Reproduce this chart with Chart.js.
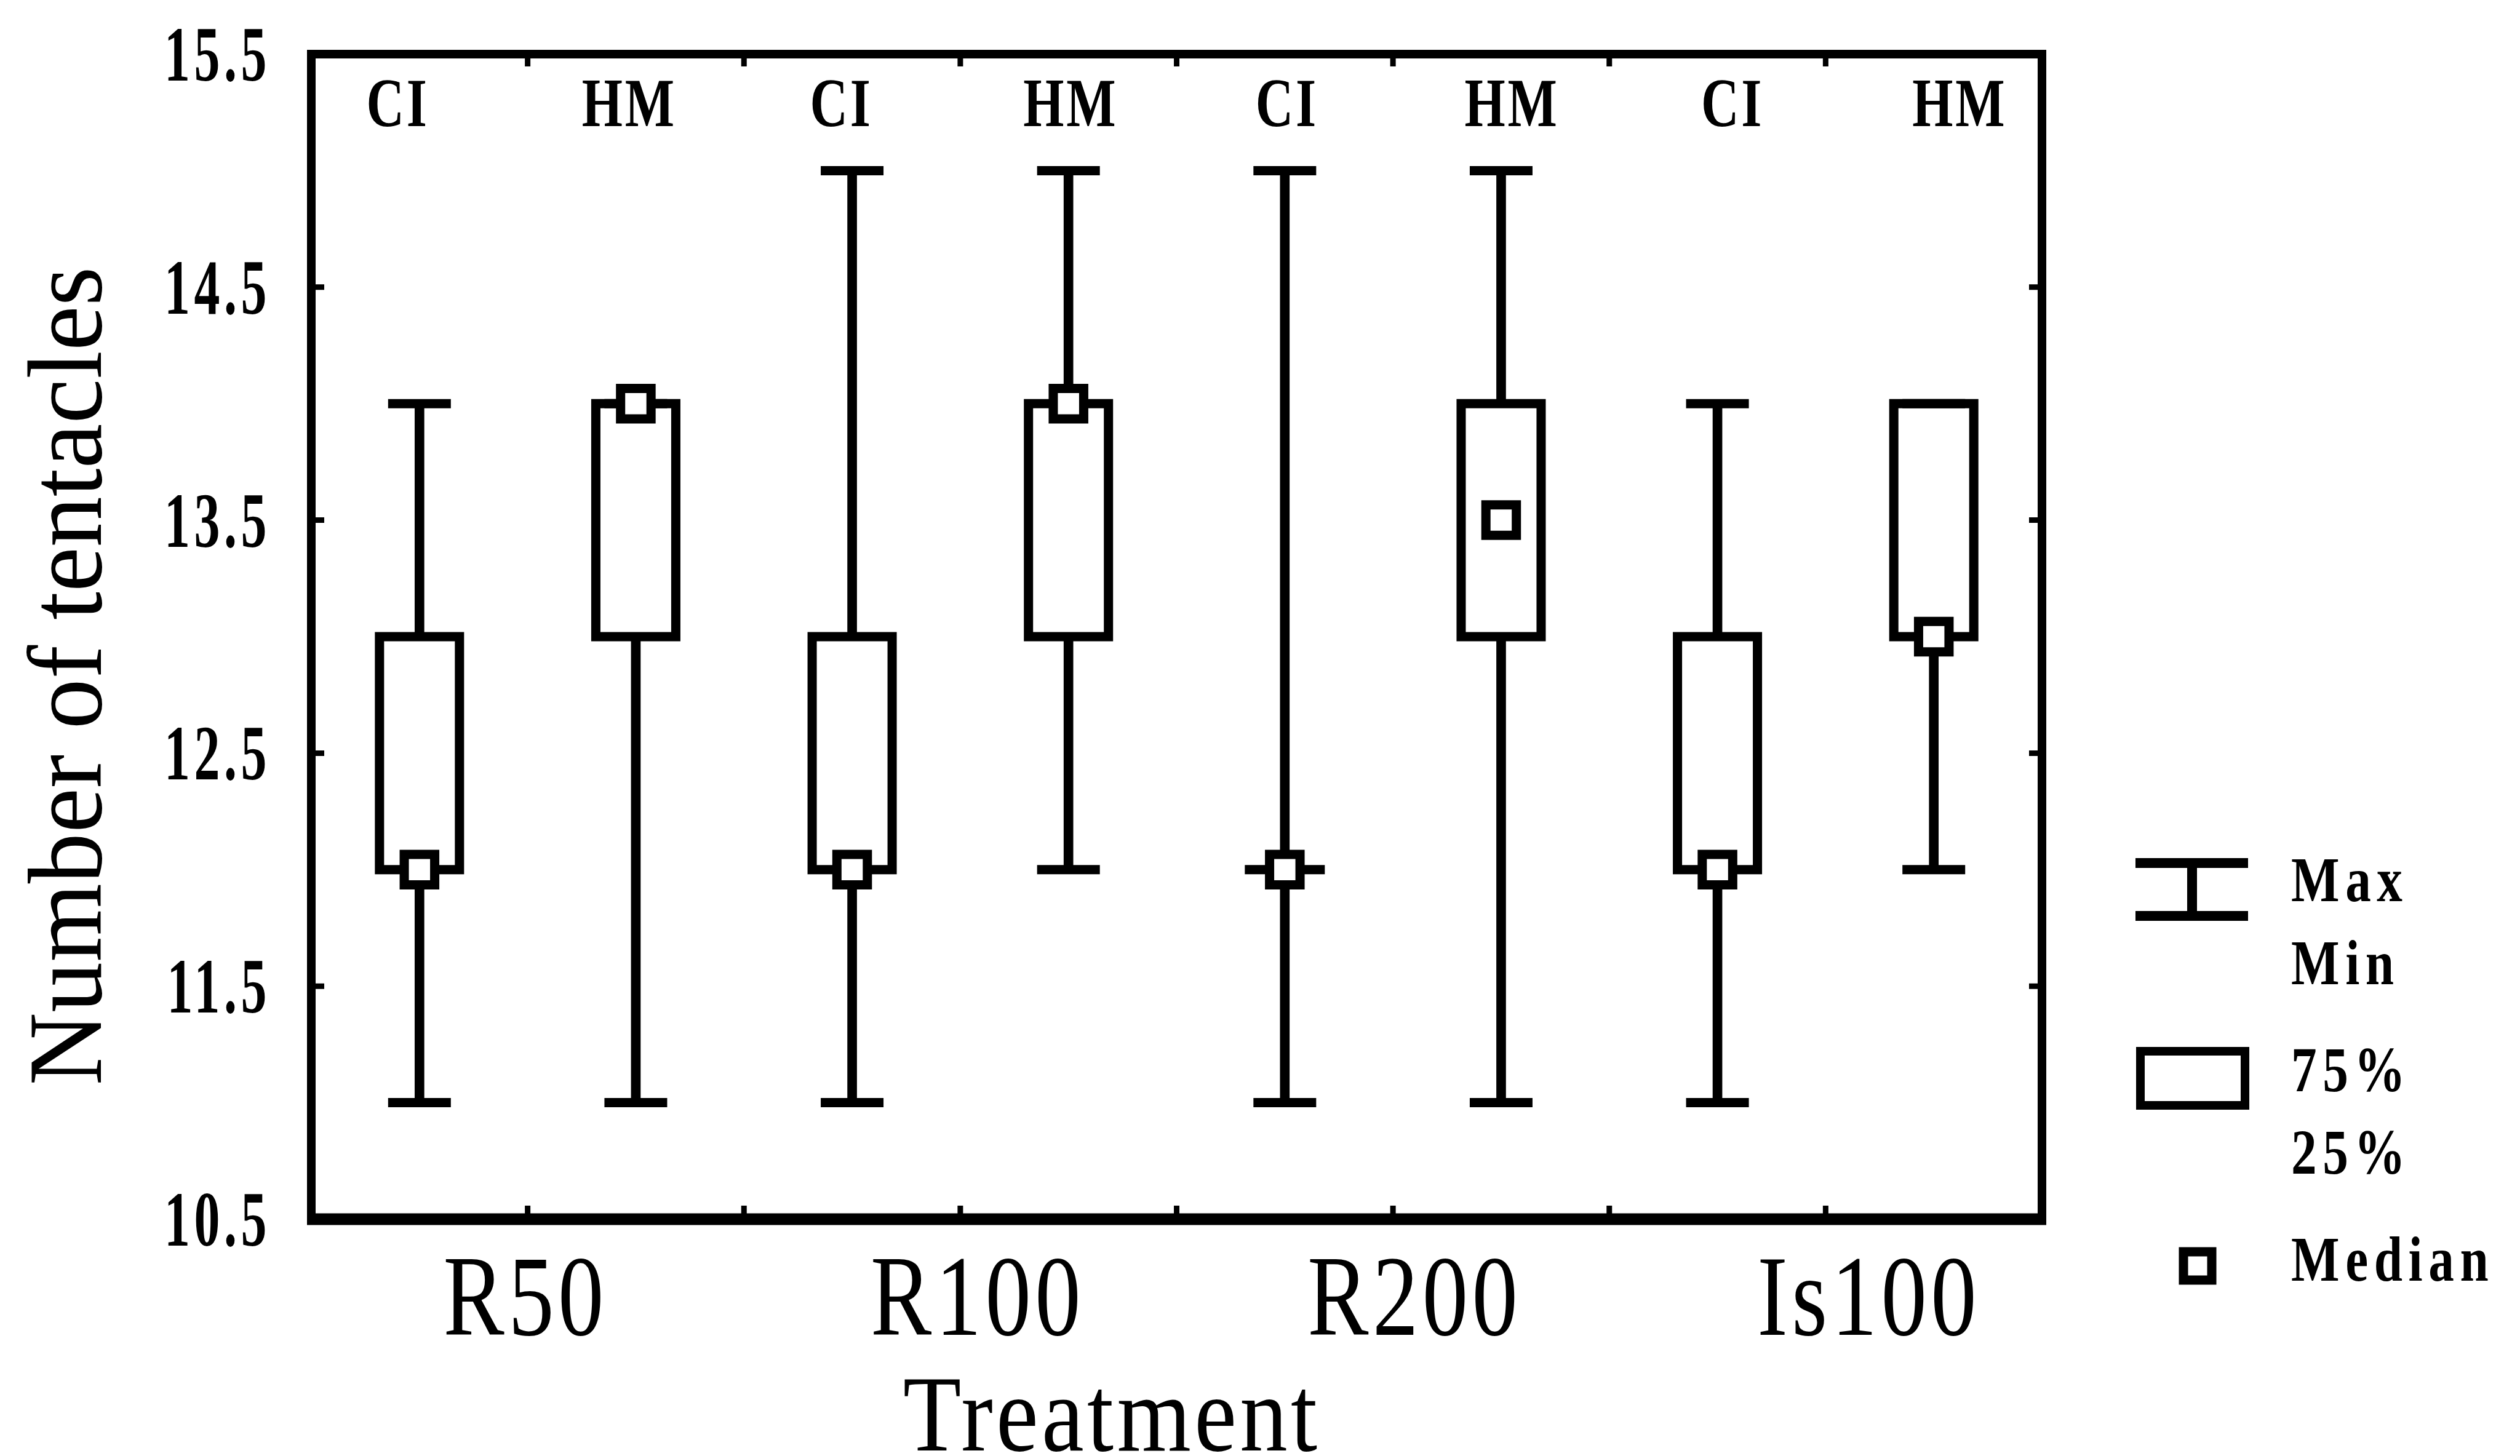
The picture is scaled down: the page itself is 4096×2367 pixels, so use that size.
<!DOCTYPE html>
<html>
<head>
<meta charset="utf-8">
<title>Number of tentacles by treatment</title>
<script src="https://cdn.jsdelivr.net/npm/chart.js@4.4.1/dist/chart.umd.min.js"></script>
<style>
  html, body { margin: 0; padding: 0; background: #fff; }
  #contenedor { width: 4096px; height: 2367px; }
</style>
</head>
<body>
<div id="contenedor"><canvas id="grafico-tentaculos"></canvas></div>
<script>
// Tentacle counts: CI and HM polyps side by side for each treatment
const treatments = ['R50', 'R100', 'R200', 'Is100'];
const groups = ['CI', 'HM', 'CI', 'HM', 'CI', 'HM', 'CI', 'HM'];
const minVals    = [11, 11, 11, 12, 11, 11,   11, 12];
const q25Vals    = [12, 13, 12, 13, 12, 13,   12, 13];
const medianVals = [12, 14, 12, 14, 12, 13.5, 12, 13];
const q75Vals    = [13, 14, 13, 14, 12, 14,   13, 14];
const maxVals    = [14, 14, 15, 15, 15, 15,   14, 14];
const yTicks = [10.5, 11.5, 12.5, 13.5, 14.5, 15.5];

// where the text sits along the x scale (box i is drawn at x = i + 1)
const groupLabelX = [0.90, 1.97, 2.95, 4.01, 5.01, 6.05, 7.07, 8.12];
const treatmentLabelX = [1.49, 3.58, 5.60, 7.70];

const SERIF = '"Liberation Serif", "Times New Roman", serif';
const LW = 15;

const xs = groups.map((g, i) => i + 1);
const pts = vals => vals.map((v, i) => ({ x: xs[i], y: v }));

// condensed, letter-spaced serif text, like the old Statistica output
function texto(ctx, str, x, y, o) {
    ctx.save();
    ctx.translate(x, y);
    if (o.rotate) ctx.rotate(o.rotate);
    ctx.scale(o.sx || 1, 1);
    ctx.font = (o.weight || 'normal') + ' ' + o.size + 'px ' + SERIF;
    if ('letterSpacing' in ctx) ctx.letterSpacing = (o.spacing || 0) + 'px';
    ctx.textAlign = o.align || 'left';
    ctx.textBaseline = 'alphabetic';
    ctx.fillStyle = '#000';
    ctx.fillText(str, 0, 0);
    ctx.restore();
}

const marcoYTextos = {
    id: 'marcoYTextos',
    beforeDraw(chart) {
        const ctx = chart.ctx;
        ctx.save();
        ctx.fillStyle = '#fff';
        ctx.fillRect(0, 0, chart.width, chart.height);
        ctx.restore();
    },
    // box outlines centred on the 25% / 75% values, drawn right after the white fill
    afterDatasetDraw(chart, args) {
        if (args.index !== 1) return;
        const ctx = chart.ctx;
        ctx.save();
        ctx.strokeStyle = '#000';
        ctx.lineWidth = LW;
        ctx.lineJoin = 'miter';
        args.meta.data.forEach(bar => {
            const p = bar.getProps(['x', 'y', 'base', 'width'], true);
            const top = Math.min(p.y, p.base);
            const h = Math.abs(p.base - p.y);
            ctx.strokeRect(p.x - p.width / 2, top, p.width, h);
        });
        ctx.restore();
    },
    afterDraw(chart) {
        const ctx = chart.ctx;
        const a = chart.chartArea;
        const sx = chart.scales.x;
        const sy = chart.scales.y;

        // frame
        ctx.save();
        ctx.strokeStyle = '#000';
        ctx.lineWidth = 14;
        ctx.strokeRect(a.left, a.top, a.right - a.left, a.bottom - a.top);
        ctx.lineWidth = 19;
        ctx.beginPath();
        ctx.moveTo(a.left - 7, a.bottom);
        ctx.lineTo(a.right + 7, a.bottom);
        ctx.stroke();

        // small inward ticks on all four sides
        ctx.lineWidth = 9;
        ctx.beginPath();
        sy.ticks.forEach(t => {
            const py = sy.getPixelForValue(t.value);
            ctx.moveTo(a.left, py); ctx.lineTo(a.left + 21, py);
            ctx.moveTo(a.right, py); ctx.lineTo(a.right - 21, py);
        });
        for (let i = 1; i < xs.length; i++) {
            const px = sx.getPixelForValue(xs[i - 1] + 0.5);
            ctx.moveTo(px, a.top); ctx.lineTo(px, a.top + 20);
            ctx.moveTo(px, a.bottom); ctx.lineTo(px, a.bottom - 22);
        }
        ctx.stroke();
        ctx.restore();

        // y tick labels
        sy.ticks.forEach(t => {
            texto(ctx, t.value.toFixed(1), a.left - 66, sy.getPixelForValue(t.value) + 43,
                { size: 127, weight: 'bold', sx: 0.66, spacing: 10, align: 'right' });
        });

        // CI / HM along the top
        groups.forEach((g, i) => {
            texto(ctx, g, sx.getPixelForValue(groupLabelX[i]), 205,
                { size: 112, weight: 'bold', sx: 0.76, spacing: 5, align: 'center' });
        });

        // treatment names
        treatments.forEach((t, i) => {
            texto(ctx, t, sx.getPixelForValue(treatmentLabelX[i]), 2170,
                { size: 186, sx: 0.8, spacing: 8, align: 'center' });
        });

        // axis titles
        texto(ctx, 'Treatment', 1807, 2358, { size: 176, sx: 0.88, spacing: 6, align: 'center' });
        texto(ctx, 'Number of tentacles', 164, 1099,
            { size: 171, sx: 0.96, align: 'center', rotate: -Math.PI / 2 });

        // legend
        ctx.save();
        ctx.strokeStyle = '#000';
        ctx.lineWidth = 16;
        ctx.beginPath();
        ctx.moveTo(3471, 1403); ctx.lineTo(3654, 1403);
        ctx.moveTo(3471, 1489); ctx.lineTo(3654, 1489);
        ctx.moveTo(3563, 1403); ctx.lineTo(3563, 1489);
        ctx.stroke();
        ctx.lineWidth = 14;
        ctx.strokeRect(3479, 1709, 170, 88);
        ctx.lineWidth = 15;
        ctx.fillStyle = '#fff';
        ctx.fillRect(3549, 2035, 46, 46);
        ctx.strokeRect(3549, 2035, 46, 46);
        ctx.restore();

        const ley = { size: 104, weight: 'bold', sx: 0.8, spacing: 12 };
        texto(ctx, 'Max', 3724, 1465, ley);
        texto(ctx, 'Min', 3724, 1600, ley);
        texto(ctx, '75%', 3724, 1774, ley);
        texto(ctx, '25%', 3724, 1908, ley);
        texto(ctx, 'Median', 3724, 2082, ley);
    }
};

const ctx = document.getElementById('grafico-tentaculos').getContext('2d');

window.miGrafico = new Chart(ctx, {
    type: 'bar',
    data: {
        datasets: [
            {
                // whisker stems, min to max
                type: 'bar',
                label: 'Min-Max',
                data: xs.map((x, i) => ({ x: x, y: [minVals[i], maxVals[i]] })),
                backgroundColor: '#000',
                borderWidth: 0,
                barThickness: LW,
                grouped: false,
                order: 5
            },
            {
                // white box body, 25% to 75%
                type: 'bar',
                label: '25%-75%',
                data: xs.map((x, i) => ({ x: x, y: [q25Vals[i], q75Vals[i]] })),
                backgroundColor: '#fff',
                borderWidth: 0,
                barThickness: 130,
                grouped: false,
                order: 4
            },
            {
                type: 'line',
                label: 'Max',
                data: pts(maxVals),
                showLine: false,
                pointStyle: 'line',
                pointRadius: 51,
                pointBorderWidth: LW,
                pointBorderColor: '#000',
                order: 3
            },
            {
                type: 'line',
                label: 'Min',
                data: pts(minVals),
                showLine: false,
                pointStyle: 'line',
                pointRadius: 51,
                pointBorderWidth: LW,
                pointBorderColor: '#000',
                order: 3
            },
            {
                type: 'line',
                label: 'Median',
                data: pts(medianVals),
                showLine: false,
                pointStyle: 'rect',
                pointRadius: 35,
                pointBorderWidth: 15,
                pointBorderColor: '#000',
                pointBackgroundColor: '#fff',
                order: 1
            }
        ]
    },
    options: {
        responsive: true,
        maintainAspectRatio: false,
        devicePixelRatio: 1,
        animation: false,
        layout: { padding: { top: 88, right: 777, left: 0, bottom: 0 } },
        plugins: {
            legend: { display: false },
            tooltip: { enabled: false }
        },
        scales: {
            x: {
                type: 'linear',
                min: 0.5,
                max: 8.5,
                offset: false,
                grid: { display: false },
                border: { display: false },
                ticks: { display: false },
                afterFit: s => { s.height = 385; }
            },
            y: {
                type: 'linear',
                min: 10.5,
                max: 15.5,
                grid: { display: false },
                border: { display: false },
                ticks: { display: false },
                afterBuildTicks: s => { s.ticks = yTicks.map(v => ({ value: v })); },
                afterFit: s => { s.width = 506; }
            }
        }
    },
    plugins: [marcoYTextos]
});
</script>
</body>
</html>
